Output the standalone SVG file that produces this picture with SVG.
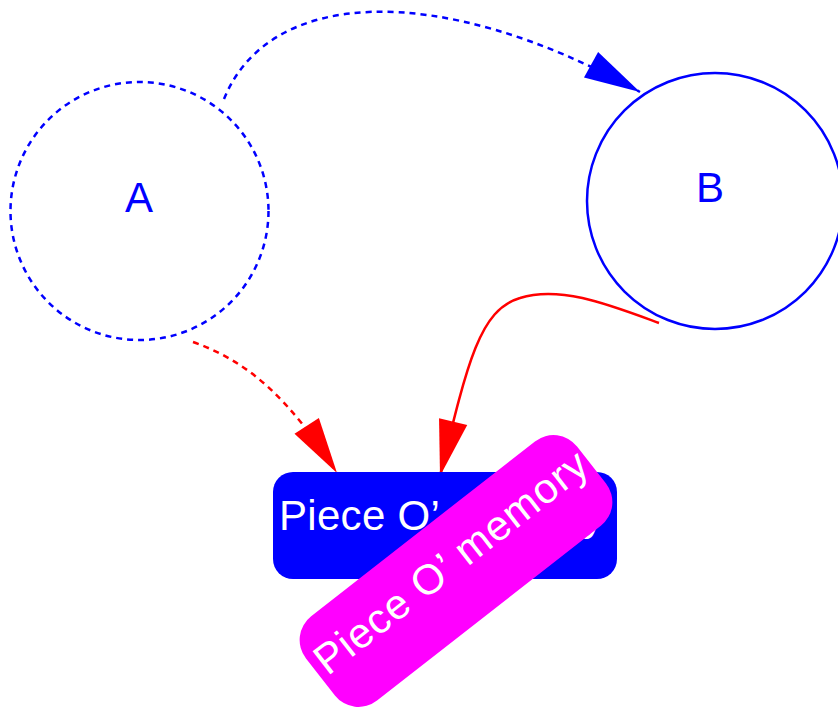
<svg xmlns="http://www.w3.org/2000/svg" width="838" height="711" viewBox="0 0 838 711">
<style>
  .lbl { font-family: "Liberation Sans", "DejaVu Sans", sans-serif; font-size: 42px; }
  .wide { letter-spacing: 1px; }
  .edge { fill: none; stroke-width: 2.5; }
  .dash { stroke-dasharray: 6 5; }
</style>
<defs>
  <marker id="arrBlue" markerUnits="userSpaceOnUse" orient="auto" refX="0" refY="0" markerWidth="60" markerHeight="30" overflow="visible">
    <path d="M0,0 L-56,-14.5 L-56,14.5 Z" fill="#0000ff"/>
  </marker>
  <marker id="arrRed" markerUnits="userSpaceOnUse" orient="auto" refX="0" refY="0" markerWidth="60" markerHeight="30" overflow="visible">
    <path d="M0,0 L-56,-14.5 L-56,14.5 Z" fill="#ff0000"/>
  </marker>
</defs>
<g id="connectors">
  <path class="edge dash" stroke="#0000ff" d="M224,99 C268,-10 435,-22 640,92" marker-end="url(#arrBlue)"/>
  <path class="edge dash" stroke="#ff0000" d="M193,342 C250,362 290,400 337,473" marker-end="url(#arrRed)"/>
  <path class="edge" stroke="#ff0000" d="M659,323 C610,305 560,285 520,298 C480,310 468,360 440,476" marker-end="url(#arrRed)"/>
</g>
<g id="nodeA">
  <circle cx="139.5" cy="211" r="129" fill="none" stroke="#0000ff" stroke-width="2.5" class="dash"/>
  <text class="lbl" x="139" y="212" text-anchor="middle" fill="#0000ff">A</text>
</g>
<g id="nodeB">
  <circle cx="715" cy="201" r="128" fill="none" stroke="#0000ff" stroke-width="2.5"/>
  <text class="lbl" x="710" y="202" text-anchor="middle" fill="#0000ff">B</text>
</g>
<g id="memory1">
  <rect x="273" y="472" width="344" height="107" rx="20" ry="20" fill="#0000ff"/>
  <text class="lbl" x="279" y="530" fill="#ffffff" letter-spacing="0.3">Piece O’ memory</text>
</g>
<g id="memory2" transform="rotate(-38 456 571)">
  <rect x="284" y="517.5" width="344" height="107" rx="30" ry="30" fill="#ff00ff"/>
  <text class="lbl wide" x="290" y="575" fill="#ffffff">Piece O’ memory</text>
</g>
</svg>
